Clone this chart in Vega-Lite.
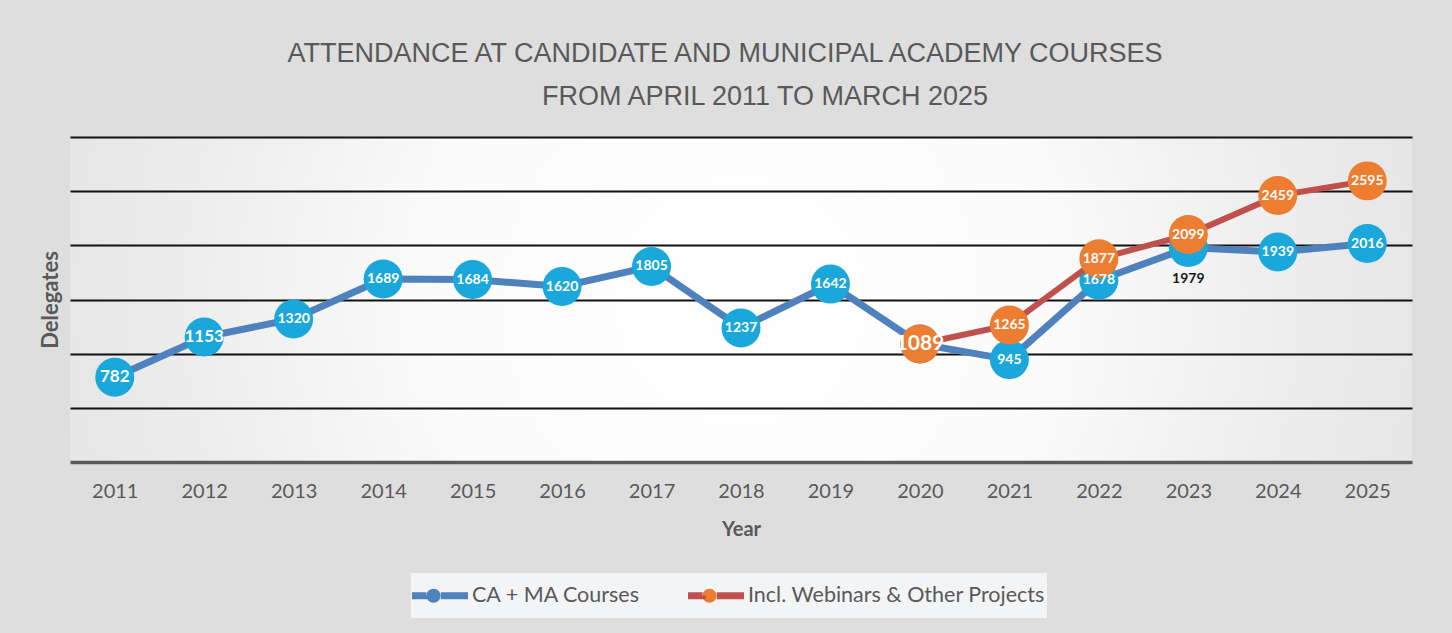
{
  "$schema": "https://vega.github.io/schema/vega-lite/v6.json",
  "width": 1342,
  "height": 325,
  "autosize": {"type": "none"},
  "padding": {"left": 70, "top": 137, "right": 40, "bottom": 171},
  "background": "#dedede",
  "title": {
    "text": ["ATTENDANCE AT CANDIDATE AND MUNICIPAL ACADEMY COURSES", "\u2800\u2800\u2800\u2800FROM APRIL 2011 TO MARCH 2025"],
    "anchor": "middle",
    "font": "Liberation Sans",
    "fontSize": 27,
    "fontWeight": "normal",
    "color": "#595959",
    "lineHeight": 43,
    "offset": 26,
    "dx": -16
  },
  "datasets": {
    "attendance": [
      {"Year": "2011", "Series": "CA + MA Courses", "Value": 782},
      {"Year": "2012", "Series": "CA + MA Courses", "Value": 1153},
      {"Year": "2013", "Series": "CA + MA Courses", "Value": 1320},
      {"Year": "2014", "Series": "CA + MA Courses", "Value": 1689},
      {"Year": "2015", "Series": "CA + MA Courses", "Value": 1684},
      {"Year": "2016", "Series": "CA + MA Courses", "Value": 1620},
      {"Year": "2017", "Series": "CA + MA Courses", "Value": 1805},
      {"Year": "2018", "Series": "CA + MA Courses", "Value": 1237},
      {"Year": "2019", "Series": "CA + MA Courses", "Value": 1642},
      {"Year": "2020", "Series": "CA + MA Courses", "Value": 1089},
      {"Year": "2021", "Series": "CA + MA Courses", "Value": 945},
      {"Year": "2022", "Series": "CA + MA Courses", "Value": 1678},
      {"Year": "2023", "Series": "CA + MA Courses", "Value": 1979},
      {"Year": "2024", "Series": "CA + MA Courses", "Value": 1939},
      {"Year": "2025", "Series": "CA + MA Courses", "Value": 2016},
      {"Year": "2020", "Series": "Incl. Webinars & Other Projects", "Value": 1089},
      {"Year": "2021", "Series": "Incl. Webinars & Other Projects", "Value": 1265},
      {"Year": "2022", "Series": "Incl. Webinars & Other Projects", "Value": 1877},
      {"Year": "2023", "Series": "Incl. Webinars & Other Projects", "Value": 2099},
      {"Year": "2024", "Series": "Incl. Webinars & Other Projects", "Value": 2459},
      {"Year": "2025", "Series": "Incl. Webinars & Other Projects", "Value": 2595}
    ]
  },
  "data": {"name": "attendance"},
  "encoding": {
    "x": {
      "field": "Year",
      "type": "ordinal",
      "scale": {"type": "point", "padding": 0.5},
      "axis": {
        "title": "Year",
        "labelAngle": 0,
        "labelFont": "Lato",
        "labelFontSize": 20,
        "labelColor": "#595959",
        "labelPadding": 19,
        "ticks": false,
        "grid": false,
        "domainColor": "#595959",
        "domainWidth": 3.5,
        "titleFont": "Lato",
        "titleFontSize": 20,
        "titleFontWeight": "bold",
        "titleColor": "#595959",
        "titlePadding": 18
      }
    },
    "y": {
      "field": "Value",
      "type": "quantitative",
      "scale": {"domain": [0, 3000], "nice": false},
      "axis": {
        "title": "Delegates",
        "values": [500, 1000, 1500, 2000, 2500, 3000],
        "labels": false,
        "ticks": false,
        "domain": false,
        "grid": true,
        "gridColor": "#111111",
        "gridWidth": 2,
        "titleFont": "Lato",
        "titleFontSize": 22,
        "titleFontWeight": "bold",
        "titleColor": "#595959",
        "titlePadding": 8
      }
    }
  },
  "layer": [
    {
      "transform": [{"filter": "datum.Series === 'CA + MA Courses'"}],
      "mark": {"type": "line", "strokeWidth": 7},
      "encoding": {
        "color": {
          "field": "Series",
          "type": "nominal",
          "scale": {"domain": ["CA + MA Courses", "Incl. Webinars & Other Projects"], "range": ["#4F81BD", "#C0504D"]},
          "legend": {
            "title": null,
            "orient": "none",
            "legendX": 341,
            "legendY": 436,
            "direction": "horizontal",
            "labelFont": "Lato",
            "labelFontSize": 21.5,
            "labelColor": "#595959",
            "labelLimit": 500,
            "labelOffset": 17,
            "columnPadding": 33,
            "padding": 1,
            "fillColor": "#f3f4f5",
            "symbolSize": 1296,
            "symbolStrokeWidth": 7,
            "symbolType": "M-1.194,0L-0.389,0A0.389,0.389,0,1,1,0.389,0A0.389,0.389,0,1,1,-0.389,0L0.389,0L1.917,0",
            "symbolDash": [14.5, 57.98, 27.5, 3000],
            "encode": {
              "symbols": {
                "update": {
                  "fill": {"signal": "datum.value === 'CA + MA Courses' ? '#4F81BD' : '#ED7D31'"},
                  "fillOpacity": {"value": 1},
                  "opacity": {"value": 1}
                }
              }
            }
          }
        }
      }
    },
    {
      "transform": [{"filter": "datum.Series === 'CA + MA Courses'"}],
      "mark": {"type": "point", "filled": true, "size": 1520, "color": "#1AA7DC", "opacity": 1}
    },
    {
      "transform": [{"filter": "datum.Series === 'Incl. Webinars & Other Projects'"}],
      "mark": {"type": "line", "strokeWidth": 6},
      "encoding": {
        "color": {"field": "Series", "type": "nominal"}
      }
    },
    {
      "transform": [{"filter": "datum.Series === 'Incl. Webinars & Other Projects'"}],
      "mark": {"type": "point", "filled": true, "size": 1520, "color": "#ED7D31", "opacity": 1}
    },
    {
      "transform": [{"filter": "datum.Series === 'CA + MA Courses' && datum.Year !== '2023' && datum.Year !== '2020'"}],
      "mark": {"type": "text", "font": "Lato", "fontWeight": "bold", "color": "#ffffff", "align": "center", "baseline": "middle"},
      "encoding": {
        "text": {"field": "Value", "type": "quantitative", "format": "d"},
        "size": {"condition": {"test": "datum.Year === '2011' || datum.Year === '2012'", "value": 17}, "value": 14}
      }
    },
    {
      "transform": [{"filter": "datum.Series === 'CA + MA Courses' && datum.Year === '2023'"}],
      "mark": {"type": "text", "font": "Lato", "fontWeight": "bold", "fontSize": 14, "color": "#1a1a1a", "align": "center", "baseline": "middle", "dy": 31},
      "encoding": {
        "text": {"field": "Value", "type": "quantitative", "format": "d"}
      }
    },
    {
      "transform": [{"filter": "datum.Series === 'Incl. Webinars & Other Projects'"}],
      "mark": {"type": "text", "font": "Lato", "fontWeight": "bold", "color": "#ffffff", "align": "center", "baseline": "middle"},
      "encoding": {
        "text": {"field": "Value", "type": "quantitative", "format": "d"},
        "size": {"condition": {"test": "datum.Year === '2020'", "value": 21}, "value": 14}
      }
    }
  ],
  "config": {
    "view": {
      "stroke": null,
      "fill": {
        "gradient": "radial",
        "x1": 0.5, "y1": 0.5, "r1": 0,
        "x2": 0.5, "y2": 0.5, "r2": 0.75,
        "stops": [
          {"offset": 0, "color": "#ffffff"},
          {"offset": 0.3, "color": "#fbfbfb"},
          {"offset": 1, "color": "#d4d4d4"}
        ]
      }
    }
  }
}
